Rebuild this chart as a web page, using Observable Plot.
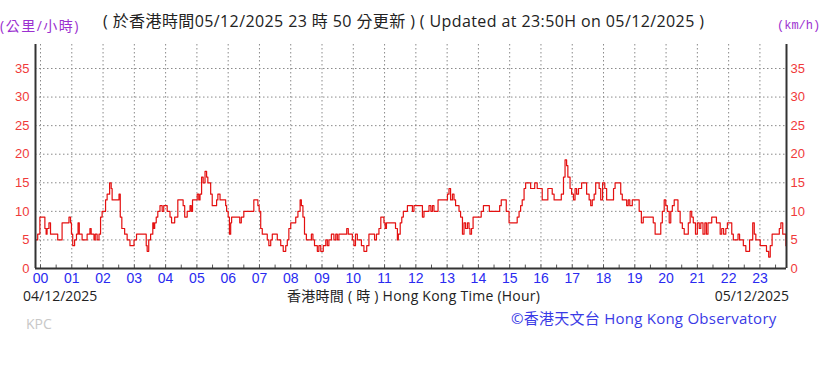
<!DOCTYPE html>
<html><head><meta charset="utf-8">
<script src="https://cdn.jsdelivr.net/npm/d3@7"></script>
<script src="https://cdn.jsdelivr.net/npm/@observablehq/plot@0.6"></script>
<style>
body{margin:0;background:#fff;width:834px;height:365px;overflow:hidden;position:relative;font-family:"Open Sans","Noto Sans CJK TC",sans-serif}
.t{position:absolute;white-space:nowrap;line-height:1}
#chart{position:absolute;left:0;top:0}
</style></head><body>
<div id="chart"></div>
<div class="t" style="left:0px;top:19px;font-size:14px;letter-spacing:1.5px;color:#9b30d0">(公里/小時)</div>
<div class="t" style="left:103px;top:13px;font-size:16px;letter-spacing:0.4px;color:#222">( 於香港時間05/12/2025 23 時 50 分更新 ) ( Updated at 23:50H on 05/12/2025 )</div>
<div class="t" style="left:777px;top:20px;font-size:12px;color:#9b30d0;font-family:'Liberation Mono',monospace">(km/h)</div>
<div class="t" style="left:23px;top:289px;font-size:14px;color:#222">04/12/2025</div>
<div class="t" style="left:287px;top:289px;font-size:14px;letter-spacing:0.25px;color:#222">香港時間 ( 時 ) Hong Kong Time (Hour)</div>
<div class="t" style="right:45px;top:289px;font-size:14px;color:#222">05/12/2025</div>
<div class="t" style="left:26px;top:317px;font-size:14px;color:#c8c8c8">KPC</div>
<div class="t" style="left:511px;top:311px;font-size:15px;letter-spacing:0.25px;color:#3a3ae6">©香港天文台 Hong Kong Observatory</div>
<script>
const hours = [-0.16,-0.09,-0.02,0.14,0.18,0.21,0.27,0.32,0.55,0.69,0.91,0.96,0.99,1.03,1.09,1.15,1.20,1.24,1.33,1.49,1.58,1.62,1.71,1.75,1.81,1.87,1.92,1.97,2.08,2.13,2.21,2.26,2.29,2.51,2.55,2.60,2.69,2.77,2.86,2.99,3.07,3.38,3.41,3.46,3.52,3.59,3.62,3.65,3.70,3.75,3.82,3.89,3.94,4.05,4.14,4.19,4.29,4.39,4.56,4.61,4.69,4.78,4.82,4.86,5.01,5.06,5.10,5.15,5.20,5.26,5.31,5.35,5.44,5.49,5.63,5.67,5.74,5.92,5.95,6.00,6.04,6.08,6.11,6.37,6.42,6.50,6.82,6.95,6.99,7.04,7.09,7.25,7.30,7.36,7.41,7.57,7.68,7.76,7.84,7.89,7.94,8.00,8.16,8.23,8.30,8.34,8.39,8.44,8.50,8.66,8.71,8.76,8.85,8.90,8.96,9.04,9.12,9.17,9.22,9.30,9.38,9.44,9.49,9.54,9.79,9.84,9.97,10.02,10.07,10.13,10.26,10.34,10.43,10.50,10.68,10.74,10.82,10.88,10.98,11.02,11.06,11.35,11.41,11.44,11.50,11.55,11.60,11.73,11.89,11.94,12.21,12.26,12.42,12.48,12.53,12.58,12.71,13.01,13.06,13.11,13.17,13.22,13.27,13.38,13.43,13.49,13.54,13.59,13.65,13.70,13.73,13.78,13.83,14.09,14.16,14.35,14.68,14.73,14.89,14.98,15.24,15.30,15.35,15.40,15.46,15.51,15.67,15.80,15.88,16.04,16.22,16.36,16.42,16.65,16.72,16.77,16.82,16.86,16.93,16.98,17.04,17.09,17.14,17.20,17.30,17.46,17.54,17.59,17.64,17.70,17.75,17.86,17.91,17.97,18.04,18.10,18.32,18.37,18.55,18.60,18.74,18.79,18.84,18.92,19.14,19.21,19.27,19.59,19.65,19.83,19.88,19.94,19.99,20.04,20.10,20.15,20.20,20.26,20.38,20.45,20.52,20.58,20.71,20.77,20.82,20.87,20.94,21.00,21.06,21.11,21.18,21.24,21.29,21.34,21.46,21.61,21.73,21.78,21.84,21.91,21.96,22.10,22.15,22.30,22.35,22.47,22.55,22.67,22.77,22.82,22.87,23.01,23.21,23.28,23.33,23.39,23.62,23.67,23.73,23.83,23.85];
const speeds = [5,6,9,7,6,7,8,6,5,8,9,8,6,4,5,6,8,6,5,6,7,6,5,6,5,6,9,10,12,13,15,14,12,13,9,7,6,5,4,5,6,4,3,5,6,8,7,8,9,10,11,10,11,10,9,8,9,12,11,9,10,11,10,12,13,12,13,16,15,17,16,15,13,11,12,13,12,11,10,9,6,8,9,8,9,10,12,11,10,7,6,5,4,5,6,5,4,3,4,5,7,8,9,10,12,11,9,6,5,6,5,4,3,4,3,4,5,4,5,6,5,6,5,6,7,6,5,4,6,5,4,3,4,6,5,6,7,9,8,7,8,7,5,6,8,9,10,11,10,11,9,10,11,10,11,10,12,13,14,12,13,12,11,10,9,6,8,7,8,7,6,7,9,10,11,10,11,12,10,8,9,10,11,12,14,15,14,15,14,12,14,13,12,13,16,19,18,16,14,13,12,14,13,14,15,13,12,11,12,13,15,14,12,15,14,12,14,15,13,12,11,12,11,12,10,8,9,8,6,8,10,12,11,10,8,10,11,12,10,8,7,6,8,10,9,8,6,8,7,8,6,8,6,8,9,8,6,7,6,7,8,6,5,6,5,4,3,5,8,6,5,4,3,2,4,6,7,8,6,4,4];
const hourTicks = d3.range(0, 24);
const halfTicks = d3.range(0.5, 24, 1);
const speedTicks = [0,5,10,15,20,25,30,35];
const gridSpeeds = [5,10,15,20,25,30,35];

const data = hours.map((h, i) => ({h, v: speeds[i]}));
const xDom = [-0.16, 23.85];
const yDom = [0, 39.2];
const grid = {stroke: "#8a8a8a", strokeOpacity: 1, strokeDasharray: "1.5,2.5", strokeWidth: 1};

const chart = Plot.plot({
  width: 834, height: 365,
  marginLeft: 35, marginRight: 48, marginTop: 44, marginBottom: 97,
  style: {fontFamily: "'Liberation Sans', sans-serif", fontSize: "13px", background: "transparent"},
  x: {domain: xDom},
  y: {domain: yDom},
  marks: [
    Plot.gridX(hourTicks, grid),
    Plot.gridY(gridSpeeds, grid),
    Plot.ruleX(halfTicks, {y1: 0, y2: 0.6, stroke: "#555"}),
    Plot.ruleX(hourTicks, {y1: 0, y2: 0.6, stroke: "#555"}),
    Plot.line(data, {x: "h", y: "v", curve: "step-after", stroke: "#e41010", strokeWidth: 1.2}),
    Plot.ruleX([xDom[0], xDom[1]], {stroke: "#333", strokeWidth: 2}),
    Plot.ruleY([0], {stroke: "#333", strokeWidth: 2}),
    Plot.axisX(hourTicks, {tickSize: 0, tickPadding: 5, fill: "#2a2af0", fontSize: 14, tickFormat: d => String(d).padStart(2, "0"), label: null}),
    Plot.axisY(speedTicks, {anchor: "left", tickSize: 0, tickPadding: 6, fill: "#f03a3a", fontSize: 13, label: null}),
    Plot.axisY(speedTicks, {anchor: "right", tickSize: 0, tickPadding: 4, fill: "#f03a3a", fontSize: 13, label: null})
  ]
});
document.getElementById("chart").appendChild(chart);
</script>
</body></html>
